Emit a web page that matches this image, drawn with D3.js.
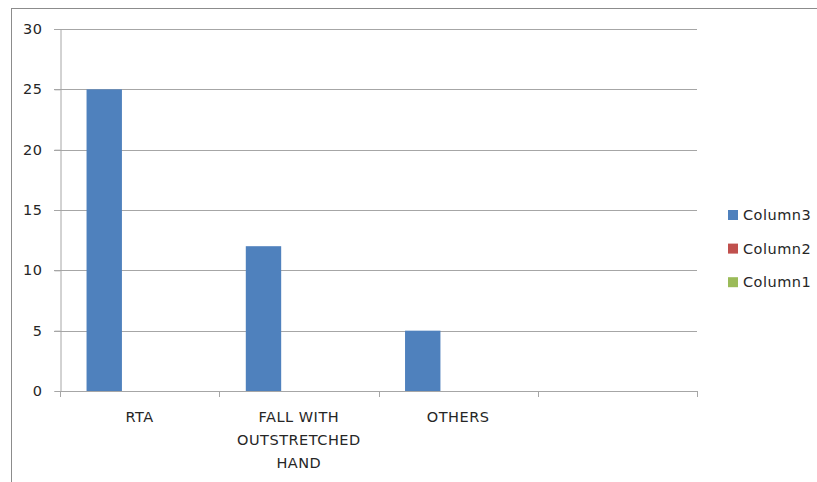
<!DOCTYPE html>
<html>
<head>
<meta charset="utf-8">
<script src="https://cdn.jsdelivr.net/npm/d3@7"></script>
<style>
  html, body { margin: 0; padding: 0; background: #fff; }
  svg { display: block; }
  text { font-family: "DejaVu Sans", sans-serif; font-size: 14.5px; fill: #262626; letter-spacing: 0.5px; }
</style>
</head>
<body>
<svg id="chart" width="817" height="482"></svg>
<script>
const categories = ["RTA", "FALL WITH OUTSTRETCHED HAND", "OTHERS", ""];
const seriesNames = ["Column3", "Column2", "Column1"];
const column3 = [25, 12, 5, null];
const column2 = [null, null, null, null];
const column1 = [null, null, null, null];
const seriesColors = ["#4F81BD", "#C0504D", "#9BBB59"];
const yTicks = [0, 5, 10, 15, 20, 25, 30];

const seriesValues = [column3, column2, column1];

const svg = d3.select("#chart");
const plot = { left: 60, right: 697, top: 29, bottom: 391 };
const grey = "#a6a6a6";

// outer frame
svg.append("rect")
  .attr("x", 11.5).attr("y", 8.5)
  .attr("width", 830).attr("height", 500)
  .attr("fill", "none").attr("stroke", "#8c8c8c").attr("stroke-width", 1);

const x = d3.scaleBand().domain(d3.range(categories.length))
  .range([plot.left, plot.right]).paddingInner(0).paddingOuter(0);
const xs = d3.scaleBand().domain(seriesNames)
  .range([0, x.bandwidth()]).paddingInner(0).paddingOuter(0.75);
const y = d3.scaleLinear().domain([0, 30]).range([plot.bottom, plot.top]);

// gridlines
svg.append("g").selectAll("line").data(yTicks.filter(t => t > 0)).join("line")
  .attr("x1", plot.left - 6).attr("x2", plot.right)
  .attr("y1", d => Math.round(y(d)) + 0.5).attr("y2", d => Math.round(y(d)) + 0.5)
  .attr("stroke", grey).attr("stroke-width", 1);

// y axis
const yAxis = svg.append("g").attr("transform", `translate(${plot.left + 0.5},0)`)
  .call(d3.axisLeft(y).tickValues(yTicks).tickSize(6).tickPadding(12).tickFormat(d3.format("d")));
yAxis.select(".domain").attr("stroke", grey);
yAxis.selectAll(".tick line").attr("stroke", grey);
yAxis.selectAll(".tick text").style("font-family", "DejaVu Sans, sans-serif").style("font-size", "14.5px").attr("fill", "#262626");

// bars
seriesValues.forEach((vals, si) => {
  svg.append("g").selectAll("rect")
    .data(vals.map((v, i) => ({ v, i })).filter(d => d.v != null && d.v > 0))
    .join("rect")
    .attr("x", d => x(d.i) + xs(seriesNames[si]))
    .attr("width", xs.bandwidth())
    .attr("y", d => y(d.v))
    .attr("height", d => y(0) - y(d.v))
    .attr("fill", seriesColors[si]);
});

// x axis line and ticks
const xg = svg.append("g");
xg.append("line")
  .attr("x1", plot.left).attr("x2", plot.right)
  .attr("y1", plot.bottom + 0.5).attr("y2", plot.bottom + 0.5)
  .attr("stroke", grey);
const bounds = categories.map((c, i) => x(i)).concat([plot.right]);
xg.selectAll("line.tk").data(bounds).join("line").attr("class", "tk")
  .attr("x1", d => Math.round(d) + 0.5).attr("x2", d => Math.round(d) + 0.5)
  .attr("y1", plot.bottom).attr("y2", plot.bottom + 6)
  .attr("stroke", grey);

// category labels (word-wrapped)
const maxW = x.bandwidth() - 10;
const lineH = 23.3;
categories.forEach((c, i) => {
  if (!c) return;
  const t = svg.append("text").attr("text-anchor", "middle")
    .attr("x", x(i) + x.bandwidth() / 2).attr("y", 421.5);
  const words = c.split(" ");
  let lines = [], cur = [];
  const probe = svg.append("text").attr("visibility", "hidden");
  words.forEach(w => {
    const test = cur.concat([w]).join(" ");
    probe.text(test);
    if (probe.node().getComputedTextLength() > maxW && cur.length) {
      lines.push(cur.join(" "));
      cur = [w];
    } else cur.push(w);
  });
  if (cur.length) lines.push(cur.join(" "));
  probe.remove();
  lines.forEach((ln, k) => {
    t.append("tspan").attr("x", x(i) + x.bandwidth() / 2).attr("dy", k === 0 ? 0 : lineH).text(ln);
  });
});

// legend
const legend = svg.append("g").attr("transform", "translate(728,210)");
seriesNames.forEach((s, i) => {
  const g = legend.append("g").attr("transform", `translate(0,${i * 33.6})`);
  g.append("rect").attr("width", 10).attr("height", 10).attr("fill", seriesColors[i]);
  g.append("text").attr("x", 15).attr("y", 5).attr("dy", "0.36em").text(s);
});
</script>
</body>
</html>
